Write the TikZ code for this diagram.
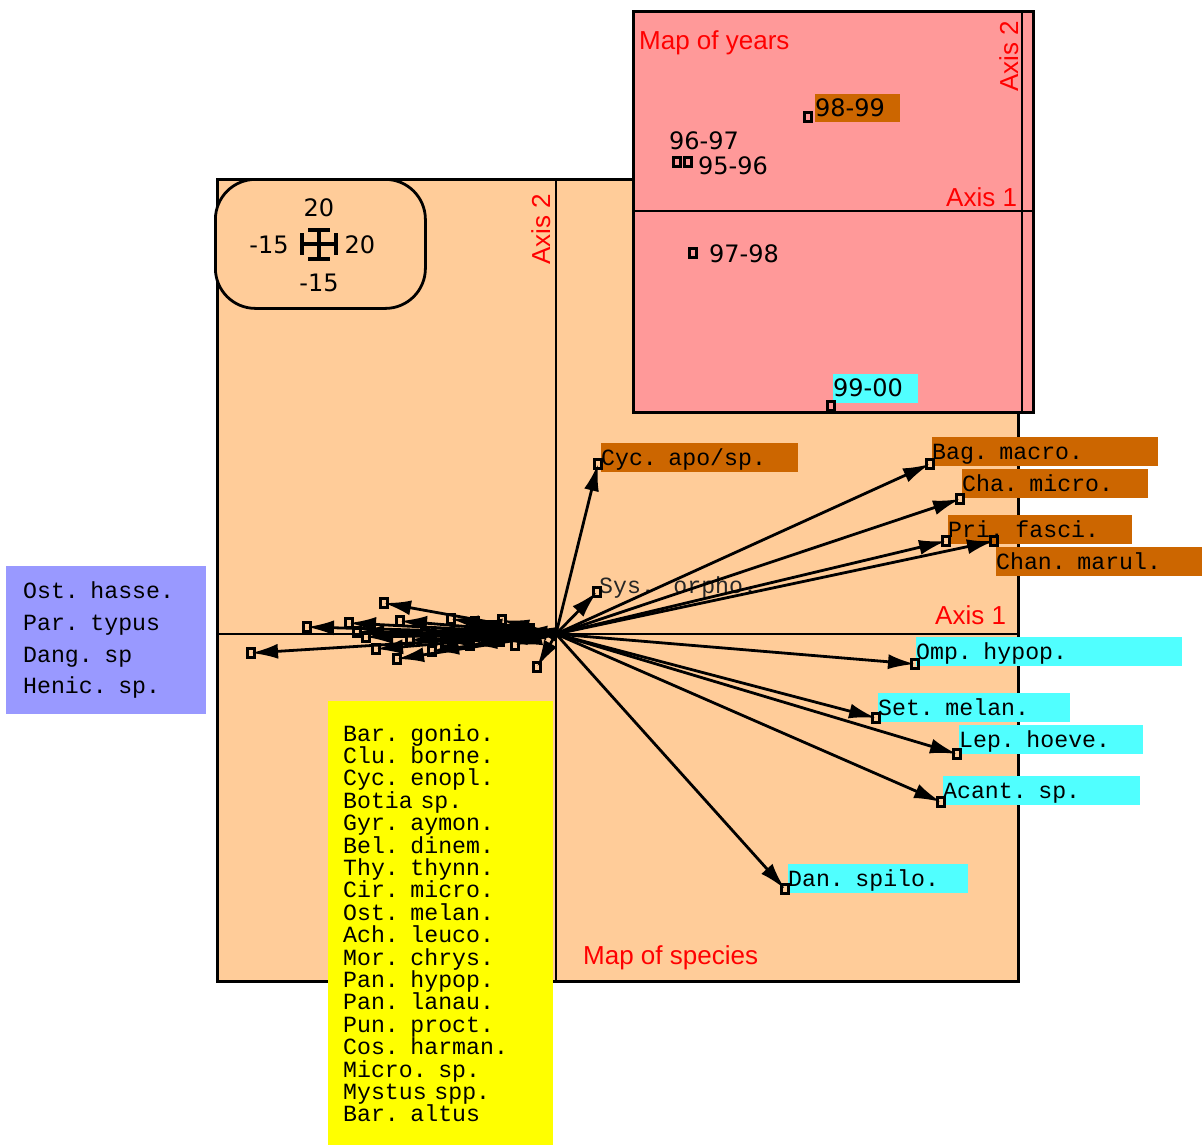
\documentclass[tikz,border=0pt]{standalone}
\usepackage{fontspec}
\setmainfont{Liberation Sans}
\newfontfamily\monof{Liberation Mono}
\newfontfamily\numf{DejaVu Sans}
\usetikzlibrary{arrows.meta}
\newcommand\mytightls{\lineskiplimit=-50pt\relax}
\definecolor{peach}{RGB}{255,204,153}
\definecolor{pinkbg}{RGB}{255,153,153}
\definecolor{orangelab}{RGB}{204,102,0}
\definecolor{cyanlab}{RGB}{80,255,255}
\definecolor{bluebox}{RGB}{153,153,255}
\definecolor{yelbox}{RGB}{255,255,0}
\definecolor{redtxt}{RGB}{255,0,0}
\tikzset{
  frame/.style={draw=black, line width=2.8pt},
  axisline/.style={draw=black, line width=2.8pt},
  redlab/.style={text=redtxt, font=\fontsize{26}{26}\selectfont, inner sep=0pt},
  numlab/.style={font=\numf\fontsize{24}{24}\selectfont, inner sep=0pt},
  mk/.style={draw=black, line width=2.4pt, minimum width=7pt, minimum height=9pt, inner sep=0pt, shape=rectangle},
  arr/.style={draw=black, line width=2.8pt, -{Latex[length=27pt,width=15pt]}},
  spbox/.style={font=\monof\fontsize{23.2}{23.2}\selectfont, inner sep=0pt, anchor=north west,
     minimum height=29pt, text width=#1, align=left, text height=16pt, text depth=1pt},
  yrbox/.style={font=\numf\fontsize{24}{24}\selectfont, inner sep=0pt, anchor=north west,
     minimum height=29pt, text width=#1, align=left, text height=17pt, text depth=1pt},
}
\begin{document}
\begin{tikzpicture}[x=1pt,y=-1pt]
\useasboundingbox (0,0) rectangle (1202,1146);

% ---------- Map of species ----------
\node[frame, fill=peach, anchor=north west, minimum width=801pt, minimum height=802pt, inner sep=0pt] (species) at (216,178) {};
\coordinate (O) at (556,634);
\draw[axisline] (556,178) -- (556,980);
\draw[axisline] (216,634) -- (1017,634);

\node[redlab, rotate=90, anchor=base west] (ax2s) at (550,265) {Axis 2};
\node[redlab, anchor=base west] (ax1s) at (935,624) {Axis 1};
\node[redlab, anchor=base west] (mapsp) at (583,964) {Map of species};

% scale box
\node[draw=black, line width=2.8pt, fill=peach, rounded corners=40pt, anchor=north west, minimum width=210pt, minimum height=129pt] (scale) at (214,178) {};
\coordinate (sc) at (319,244);
\draw[line width=3.2pt] (302,244) -- (336,244) (319,230) -- (319,259)
  (302,233) -- (302,255) (336,233) -- (336,255) (308,230) -- (330,230) (308,259) -- (330,259);
\node[numlab] (st) at (319,208) {20};
\node[numlab] (sl) at (269,245) {-15};
\node[numlab] (sr) at (360,245) {20};
\node[numlab] (sb) at (319,283) {-15};

% species labels (boxes)
\node[spbox=197pt, fill=orangelab] (lcyc) at (601,443) {Cyc. apo/sp.};
\node[spbox=226pt, fill=orangelab] (lbag) at (932,437) {Bag. macro.};
\node[spbox=186pt, fill=orangelab] (lcha) at (962,469) {Cha. micro.};
\node[spbox=184pt, fill=orangelab] (lpri) at (948,515) {Pri. fasci.};
\node[spbox=206pt, fill=orangelab] (lchan) at (996,547) {Chan. marul.};
\node[spbox=266pt, fill=cyanlab] (lomp) at (916,637) {Omp. hypop.};
\node[spbox=192pt, fill=cyanlab] (lset) at (878,693) {Set. melan.};
\node[spbox=184pt, fill=cyanlab] (llep) at (959,725) {Lep. hoeve.};
\node[spbox=197pt, fill=cyanlab] (lacant) at (943,776) {Acant. sp.};
\node[spbox=180pt, fill=cyanlab] (ldan) at (788,864) {Dan. spilo.};
\node[font=\monof\fontsize{23.2}{23.2}\selectfont, text=black!85, inner sep=0pt, anchor=base west] (lsys) at (599,593) {Sys. orpho.};

% right-hand arrows
\foreach \nm/\px/\py in {cyc/598/464, sys/597/592, bag/930/464, cha/960/499, pri/946/541, chan/994/541,
    omp/915/664, set/876/718, lep/957/754, acant/941/802, dan/785/889}{
  \node[mk] (p\nm) at (\px,\py) {};
  \draw[arr] (O) -- (p\nm.center);
  \node[mk] at (p\nm) {};
}

% left cluster
\foreach \px/\py [count=\i] in {251/653, 307/627, 384/603, 349/623, 400/621, 451/619, 502/620,
    397/659, 376/649, 432/651, 357/632, 366/637, 410/640, 537/667, 460/636, 480/630,
    470/645, 500/641, 520/630, 490/626, 515/645, 530/629, 445/642, 425/633, 475/622, 505/632}{
  \node[mk] (q\i) at (\px,\py) {};
  \draw[arr] (O) -- (q\i.center);
  \node[mk] at (q\i) {};
}

% ---------- Map of years ----------
\node[frame, fill=pinkbg, anchor=north west, minimum width=400pt, minimum height=401pt, inner sep=0pt] (years) at (632,10) {};
\draw[axisline] (632,211) -- (1032,211);
\draw[axisline] (1022,10) -- (1022,411);
\node[redlab, anchor=base west] (mapyr) at (639,49) {Map of years};
\node[redlab, anchor=base west] (ax1y) at (946,206) {Axis 1};
\node[redlab, rotate=90, anchor=base west] (ax2y) at (1018,92) {Axis 2};

\node[yrbox=85pt, fill=orangelab, minimum height=28pt] (y9899) at (815,94) {98-99};
\node[yrbox=85pt, fill=cyanlab] (y9900) at (833,374) {99-00};
\node[numlab, anchor=base west] (y9697) at (669,149) {96-97};
\node[numlab, anchor=base west] (y9596) at (698,174) {95-96};
\node[numlab, anchor=base west] (y9798) at (709,262) {97-98};
\node[mk] (m9899) at (808,117) {};
\node[mk] (m9697) at (677,162) {};
\node[mk] (m9596) at (688,162) {};
\node[mk] (m9798) at (693,253) {};
\node[mk] (m9900) at (831,406) {};

% ---------- side legends ----------
\node[fill=bluebox, anchor=north west, minimum height=148pt, text width=200pt, inner xsep=0pt, align=left,
  font=\monof\fontsize{23.2}{31.6}\selectfont\mytightls, inner ysep=0pt] (blue) at (6,566)
  {\hspace*{17pt}Ost. hasse.\\\hspace*{17pt}Par. typus\\\hspace*{17pt}Dang. sp\\\hspace*{17pt}Henic. sp.};
\node[fill=yelbox, anchor=north west, minimum height=444pt, text width=225pt, inner xsep=0pt, inner ysep=0pt, align=left,
  font=\monof\fontsize{23.2}{22.4}\selectfont\mytightls] (yellowbox) at (328,701)
  {\hspace*{15pt}Bar. gonio.\\\hspace*{15pt}Clu. borne.\\\hspace*{15pt}Cyc. enopl.\\\hspace*{15pt}Botia sp.\\
   \hspace*{15pt}Gyr. aymon.\\\hspace*{15pt}Bel. dinem.\\\hspace*{15pt}Thy. thynn.\\\hspace*{15pt}Cir. micro.\\
   \hspace*{15pt}Ost. melan.\\\hspace*{15pt}Ach. leuco.\\\hspace*{15pt}Mor. chrys.\\\hspace*{15pt}Pan. hypop.\\
   \hspace*{15pt}Pan. lanau.\\\hspace*{15pt}Pun. proct.\\\hspace*{15pt}Cos. harman.\\\hspace*{15pt}Micro. sp.\\
   \hspace*{15pt}Mystus spp.\\\hspace*{15pt}Bar. altus};
\end{tikzpicture}
\end{document}
